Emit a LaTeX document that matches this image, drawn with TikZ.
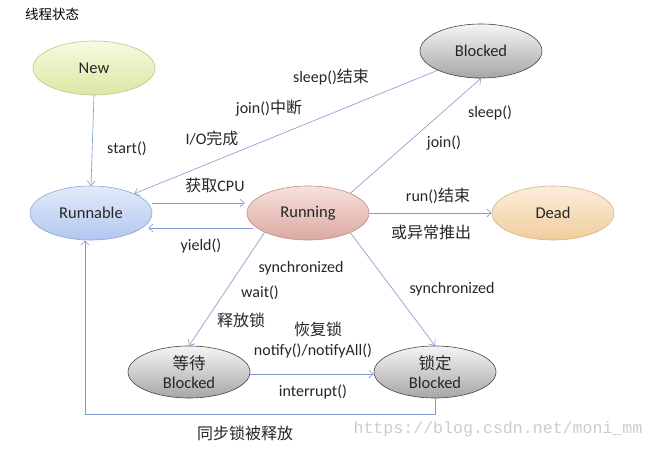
\documentclass[tikz,border=0pt]{standalone}
\usepackage{fontspec}
\setmainfont{Carlito}
\newfontfamily\cjk{Noto Sans CJK SC}
\newfontfamily\wmfont{Liberation Mono}
\newcommand{\zh}[1]{{\cjk #1}}
\usetikzlibrary{shapes.geometric,arrows.meta}
\definecolor{arrcol}{HTML}{7F9ACD}
\definecolor{newtop}{HTML}{F7FADF}
\definecolor{newbot}{HTML}{DDE6A6}
\definecolor{newbd}{HTML}{BCC785}
\definecolor{rbltop}{HTML}{E3EBFA}
\definecolor{rblbot}{HTML}{B2C6EF}
\definecolor{rblbd}{HTML}{8CA6D8}
\definecolor{rngtop}{HTML}{F7E1DC}
\definecolor{rngbot}{HTML}{DBA9A1}
\definecolor{rngbd}{HTML}{C08D84}
\definecolor{blktop}{HTML}{F5F5F5}
\definecolor{blkbot}{HTML}{A6A6A6}
\definecolor{blkbd}{HTML}{454545}
\definecolor{ddtop}{HTML}{FCEEDB}
\definecolor{ddbot}{HTML}{F1CD9E}
\definecolor{ddbd}{HTML}{D9B486}
\begin{document}
\begin{tikzpicture}[x=1pt,y=-1pt,
  st/.style={ellipse, minimum width=122pt, minimum height=54pt, inner sep=0pt,
    font=\fontsize{16.5}{21}\selectfont, align=center, line width=0.6pt, text=black!85},
  newst/.style={st, draw=newbd, top color=newtop, bottom color=newbot},
  runnablest/.style={st, draw=rblbd, top color=rbltop, bottom color=rblbot},
  runningst/.style={st, draw=rngbd, top color=rngtop, bottom color=rngbot},
  blockedst/.style={st, draw=blkbd, top color=blktop, bottom color=blkbot},
  deadst/.style={st, draw=ddbd, top color=ddtop, bottom color=ddbot},
  arr/.style={draw=arrcol, line width=0.6pt, -{Straight Barb[length=4.5pt,width=8pt]}},
  lab/.style={font=\fontsize{16}{18}\selectfont, inner sep=0pt, text=black!85}]
\useasboundingbox (0,0) rectangle (655,449);
\fill[white] (0,0) rectangle (655,449);

\node[anchor=west, inner sep=0pt, font=\fontsize{13.5}{16}\selectfont] (title) at (25,14) {\zh{线程状态}};

\node[newst] (new) at (94,68) {New};
\node[runnablest] (runnable) at (91,213) {Runnable};
\node[runningst] (running) at (308,213) {Running};
\node[blockedst] (blocked) at (481,51) {Blocked};
\node[deadst] (dead) at (553,213) {Dead};
\node[blockedst, minimum height=52pt] (wait) at (189,372) {\zh{等待}\\[-2pt]Blocked};
\node[blockedst, minimum height=52pt] (lock) at (435,372) {\zh{锁定}\\[-2pt]Blocked};

\draw[arr] (new.south) -- (runnable.north);
\draw[arr] (blocked.204) -- (runnable.24);
\draw[arr] ([yshift=10pt]runnable.east) -- ([yshift=10pt,xshift=-2pt]running.west);
\draw[arr] ([yshift=-15pt,xshift=6pt]running.west) -- ([yshift=-15pt,xshift=-4pt]runnable.east);
\draw[arr] (running.25) -- (blocked.south);
\draw[arr] (running.east) -- (dead.west);
\draw[arr] (running.204) -- (wait.north);
\draw[arr] (running.-25) -- (lock.north);
\draw[arr] ([yshift=-2pt]wait.east) -- ([yshift=-2pt]lock.west);
\draw[arr] (lock.south) -- (lock.south |- 0,414) -| ([xshift=-6pt]runnable.south);

\node[lab] (l1) at (127,149) {start()};
\node[lab] (l2) at (331,77) {sleep()\zh{结束}};
\node[lab] (l3) at (269,108) {join()\zh{中断}};
\node[lab] (l4) at (212,138) {I/O\zh{完成}};
\node[lab] (l5) at (215,185) {\zh{获取}CPU};
\node[lab] (l6) at (201,246) {yield()};
\node[lab] (l7) at (444,143) {join()};
\node[lab] (l8) at (490,113) {sleep()};
\node[lab] (l9) at (438,196) {run()\zh{结束}};
\node[lab] (l10) at (431,232) {\zh{或异常推出}};
\node[lab] (l11) at (301,268) {synchronized};
\node[lab] (l12) at (260,293) {wait()};
\node[lab] (l13) at (241,320) {\zh{释放锁}};
\node[lab] (l14) at (318,329) {\zh{恢复锁}};
\node[lab] (l15) at (313,351) {notify()/notifyAll()};
\node[lab] (l16) at (313,392) {interrupt()};
\node[lab] (l17) at (452,289) {synchronized};
\node[lab] (l18) at (245,433) {\zh{同步锁被释放}};
\node[inner sep=0pt, font=\wmfont\fontsize{16.6}{18}\selectfont, text=black!20] (wm) at (498,429) {https://blog.csdn.net/moni\_mm};
\end{tikzpicture}
\end{document}
